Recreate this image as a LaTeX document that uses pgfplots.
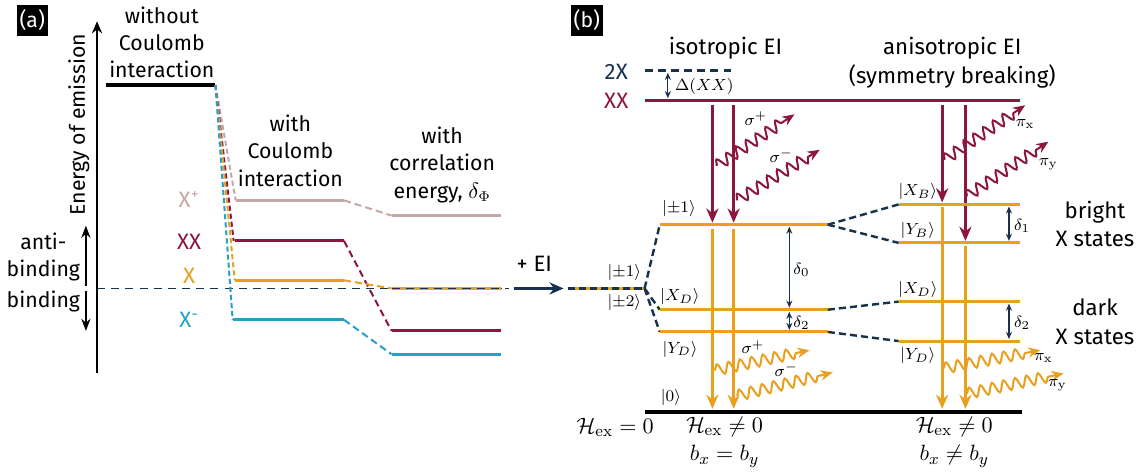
\documentclass[border=0pt]{standalone}
\usepackage[no-math]{fontspec}
\setmainfont{Fira Sans}
\usepackage{pgfplots}
\pgfplotsset{compat=1.18}
\usetikzlibrary{arrows.meta,decorations.pathmorphing}
\definecolor{maroon}{RGB}{140,22,64}
\definecolor{orng}{RGB}{232,160,30}
\definecolor{tealc}{RGB}{40,160,195}
\definecolor{pinkg}{RGB}{196,168,168}
\definecolor{navy}{RGB}{22,50,78}
\newcommand{\txt}{\fontsize{10.5}{13.5}\selectfont}
\newcommand{\bigt}{\fontsize{11}{14}\selectfont}
\newcommand{\smt}{\fontsize{8}{10}\selectfont}
\begin{document}
\begin{tikzpicture}
\begin{axis}[hide axis, scale only axis, width=570.5pt, height=234pt,
  xmin=0, xmax=1141, ymin=0, ymax=468, y dir=reverse, clip=false,
  lvl/.style={line width=1.5pt},
  tr/.style={line width=1pt, dash pattern=on 2.5pt off 1.5pt},
  tr2/.style={line width=1pt, dash pattern=on 3.5pt off 2pt},
  nd/.style={navy, line width=1.2pt, dash pattern=on 3.5pt off 2pt},
  dar/.style={navy, line width=0.6pt, {Stealth[length=3.5pt,width=3pt]}-{Stealth[length=3.5pt,width=3pt]}},
  var/.style={line width=1.5pt, -{Stealth[length=7pt,width=6pt]}},
  wave/.style={line width=1pt, decorate, decoration={snake, amplitude=2.7pt, segment length=5.8pt, post length=5pt}, -{Stealth[length=6pt,width=5pt]}},
]
% ---------------- panel (a)
\node[fill=black, text=white, inner sep=1.5pt, minimum width=15.5pt, minimum height=15.5pt, font=\txt] at (axis cs:37,19) {(a)};
\addplot[line width=0.9pt, -{Stealth[length=6pt,width=5pt]}] coordinates {(101,368) (101,20)};
\node[rotate=90, font=\txt] at (axis cs:83,122) {Energy of emission};
\node[align=center, font=\txt] at (axis cs:165,41) {without\\Coulomb\\interaction};
\node[align=center, font=\txt] at (axis cs:292,148) {with\\Coulomb\\interaction};
\node[align=center, font=\txt] at (axis cs:442,162) {with\\correlation\\energy, $\delta_\Phi$};
\node[align=center, font=\txt] at (axis cs:48,253) {anti-\\binding};
\node[font=\txt] at (axis cs:48,297) {binding};
\addplot[line width=0.9pt, -{Stealth[length=6pt,width=4.5pt]}] coordinates {(90,282) (90,222)};
\addplot[line width=0.9pt, -{Stealth[length=6pt,width=4.5pt]}] coordinates {(90,287) (90,326)};
\addplot[navy, line width=0.8pt, dash pattern=on 4pt off 3pt] coordinates {(101,284) (508,284)};
\addplot[line width=2pt] coordinates {(110,83) (218,83)};
% transitions
\addplot[pinkg, tr] coordinates {(218,83) (238,197)};
\addplot[maroon, tr] coordinates {(218,83) (236,237)};
\addplot[orng, tr] coordinates {(218,83) (237,276)};
\addplot[tealc, tr] coordinates {(218,83) (235,315)};
\addplot[pinkg, lvl] coordinates {(238,197) (345,197)};
\addplot[maroon, lvl] coordinates {(237,237) (345,237)};
\addplot[orng, lvl] coordinates {(237,276) (345,276)};
\addplot[tealc, lvl] coordinates {(235,315) (345,315)};
\addplot[pinkg, tr2] coordinates {(345,197) (392,212)};
\addplot[maroon, tr2] coordinates {(345,237) (392,326)};
\addplot[orng, tr2] coordinates {(345,276) (392,284)};
\addplot[tealc, tr2] coordinates {(345,315) (392,349)};
\addplot[pinkg, lvl] coordinates {(392,212) (500,212)};
\addplot[maroon, lvl] coordinates {(392,326) (500,326)};
\addplot[orng, lvl] coordinates {(392,284) (500,284)};
\addplot[tealc, lvl] coordinates {(392,349) (500,349)};
\addplot[navy, line width=0.8pt, dash pattern=on 4pt off 3pt] coordinates {(392,284) (508,284)};
\node[text=pinkg, font=\bigt] at (axis cs:192,196) {X\textsuperscript{+}};
\node[text=maroon, font=\bigt] at (axis cs:192,238) {XX};
\node[text=orng, font=\bigt] at (axis cs:192,272) {X};
\node[text=tealc, font=\bigt] at (axis cs:192,315) {X\textsuperscript{-}};
% + EI
\node[font=\bigt] at (axis cs:533,260) {+ EI};
\addplot[navy, line width=1.2pt, -{Stealth[length=7pt,width=6pt]}] coordinates {(513,284) (562,284)};
% ---------------- panel (b)
\node[fill=black, text=white, inner sep=1.5pt, minimum width=15.5pt, minimum height=15.5pt, font=\txt] at (axis cs:585,19) {(b)};
\node[font=\bigt] at (axis cs:722,47) {isotropic EI};
\node[align=center, font=\bigt] at (axis cs:946,61) {anisotropic EI\\(symmetry breaking)};
\node[text=navy, font=\bigt] at (axis cs:614,70) {2X};
\node[text=maroon, font=\bigt] at (axis cs:614,99) {XX};
\addplot[navy, line width=1.5pt, dash pattern=on 4pt off 2.5pt] coordinates {(642,69) (727,69)};
\addplot[maroon, lvl] coordinates {(642,98) (1013,98)};
\addplot[dar] coordinates {(665,71) (665,96)};
\node[font=\smt] at (axis cs:701,84) {$\Delta(XX)$};
% maroon arrows
\addplot[maroon, var] coordinates {(709,103) (709,219)};
\addplot[maroon, var] coordinates {(730,103) (730,219)};
\addplot[maroon, var] coordinates {(936,103) (936,199)};
\addplot[maroon, var] coordinates {(959,103) (959,237)};
\addplot[maroon, wave] coordinates {(713,163) (790,112)};
\addplot[maroon, wave] coordinates {(733,197) (815,147)};
\addplot[maroon, wave] coordinates {(938,157) (1018,103)};
\addplot[maroon, wave] coordinates {(960,193) (1041,139)};
\node[font=\smt] at (axis cs:752,116) {$\sigma^+$};
\node[font=\smt] at (axis cs:777,153) {$\sigma^-$};
\node[font=\smt] at (axis cs:1018,122) {$\pi_{\mathrm{x}}$};
\node[font=\smt] at (axis cs:1041,161) {$\pi_{\mathrm{y}}$};
% orange levels
\addplot[orng, lvl] coordinates {(572,284) (642,284)};
\addplot[nd] coordinates {(566,284) (642,284)};
\node[font=\smt] at (axis cs:622,268) {$|{\pm}1\rangle$};
\node[font=\smt] at (axis cs:622,298) {$|{\pm}2\rangle$};
\addplot[nd] coordinates {(642,284) (657,221)};
\addplot[nd] coordinates {(642,284) (657,305)};
\addplot[nd] coordinates {(642,284) (657,327)};
\addplot[orng, lvl] coordinates {(657,221) (823,221)};
\addplot[orng, lvl] coordinates {(657,305) (823,305)};
\addplot[orng, lvl] coordinates {(657,327) (823,327)};
\node[font=\smt] at (axis cs:676,205) {$|{\pm}1\rangle$};
\node[font=\smt] at (axis cs:677,292) {$|X_D\rangle$};
\node[font=\smt] at (axis cs:677,344) {$|Y_D\rangle$};
\node[font=\smt] at (axis cs:668,392) {$|0\rangle$};
\addplot[dar] coordinates {(785,223) (785,303)};
\node[font=\smt] at (axis cs:797,266) {$\delta_0$};
\addplot[dar] coordinates {(785,307) (785,325)};
\node[font=\smt] at (axis cs:797,318) {$\delta_2$};
\addplot[nd] coordinates {(823,221) (893,201)};
\addplot[nd] coordinates {(823,221) (893,239)};
\addplot[nd] coordinates {(823,305) (893,297)};
\addplot[nd] coordinates {(823,327) (893,336)};
\addplot[orng, lvl] coordinates {(893,201) (1013,201)};
\addplot[orng, lvl] coordinates {(893,239) (1013,239)};
\addplot[orng, lvl] coordinates {(893,297) (1013,297)};
\addplot[orng, lvl] coordinates {(893,336) (1013,336)};
\node[font=\smt] at (axis cs:912,188) {$|X_B\rangle$};
\node[font=\smt] at (axis cs:912,227) {$|Y_B\rangle$};
\node[font=\smt] at (axis cs:912,285) {$|X_D\rangle$};
\node[font=\smt] at (axis cs:912,350) {$|Y_D\rangle$};
\addplot[dar] coordinates {(1002,203) (1002,237)};
\node[font=\smt] at (axis cs:1015,222) {$\delta_1$};
\addplot[dar] coordinates {(1002,299) (1002,334)};
\node[font=\smt] at (axis cs:1015,318) {$\delta_2$};
\node[align=center, font=\bigt] at (axis cs:1087,220) {bright\\X states};
\node[align=center, font=\bigt] at (axis cs:1087,317) {dark\\X states};
% orange verticals
\addplot[orng, var] coordinates {(709,225) (709,403)};
\addplot[orng, var] coordinates {(730,225) (730,403)};
\addplot[orng, var] coordinates {(936,204) (936,403)};
\addplot[orng, var] coordinates {(959,242) (959,403)};
\addplot[orng, wave] coordinates {(711,365) (805,345)};
\addplot[orng, wave] coordinates {(733,390) (828,367)};
\addplot[orng, wave] coordinates {(937,363) (1033,345)};
\addplot[orng, wave] coordinates {(960,388) (1056,368)};
\node[font=\smt] at (axis cs:749,342) {$\sigma^+$};
\node[font=\smt] at (axis cs:782,364) {$\sigma^-$};
\node[font=\smt] at (axis cs:1036,353) {$\pi_{\mathrm{x}}$};
\node[font=\smt] at (axis cs:1050,380) {$\pi_{\mathrm{y}}$};
% ground
\addplot[line width=2pt] coordinates {(642,406) (1015,406)};
\node[font=\bigt] at (axis cs:613,421) {$\mathcal{H}_{\mathrm{ex}}=0$};
\node[font=\bigt] at (axis cs:721,421) {$\mathcal{H}_{\mathrm{ex}}\neq0$};
\node[font=\bigt] at (axis cs:721,450) {$b_x=b_y$};
\node[font=\bigt] at (axis cs:948,421) {$\mathcal{H}_{\mathrm{ex}}\neq0$};
\node[font=\bigt] at (axis cs:948,450) {$b_x\neq b_y$};
\end{axis}
\end{tikzpicture}
\end{document}
